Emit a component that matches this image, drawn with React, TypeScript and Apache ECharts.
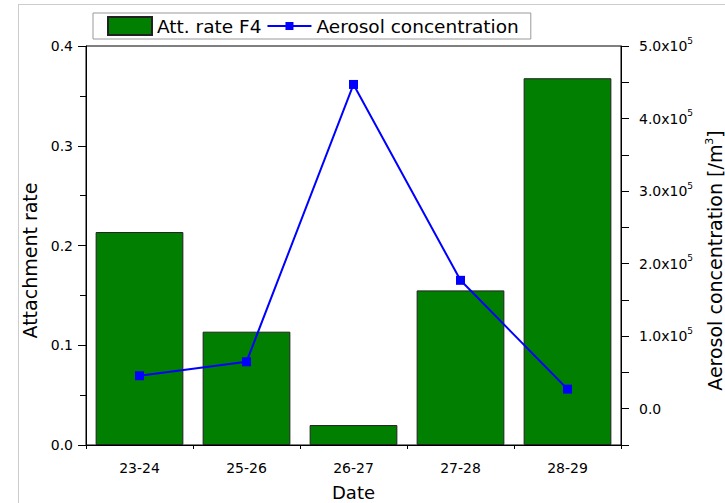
import React, { useEffect, useRef } from "react";
import * as echarts from "echarts";

const categories = ["23-24", "25-26", "26-27", "27-28", "28-29"];
const attRate = [0.2135, 0.1136, 0.02, 0.155, 0.3677];
const aerosol = [45500, 64700, 447000, 177000, 27000];

const FONT = "'DejaVu Sans', sans-serif";

export default function App() {
  const ref = useRef<HTMLDivElement>(null);
  useEffect(() => {
    document.body.style.margin = "0";
    const chart = echarts.init(ref.current!, null, { renderer: "svg" });
    chart.setOption({
      animation: false,
      textStyle: { fontFamily: FONT, color: "#000" },
      graphic: [
        { type: "line", shape: { x1: 18, y1: 4.5, x2: 725, y2: 4.5 }, style: { stroke: "#cccccc", lineWidth: 1 } },
        { type: "line", shape: { x1: 18.5, y1: 4, x2: 18.5, y2: 503 }, style: { stroke: "#cccccc", lineWidth: 1 } },
      ],
      legend: {
        left: 93,
        top: 13,
        padding: [3, 12, 3, 14],
        itemWidth: 44,
        itemHeight: 18,
        itemGap: 6,
        borderColor: "#999",
        borderWidth: 1,
        textStyle: { fontFamily: FONT, fontSize: 18.5, color: "#000" },
        data: [
          { name: "Att. rate F4", icon: "rect" },
          {
            name: "Aerosol concentration",
            icon: "path://M0,0M44,18M0,8L18,8L18,5L26,5L26,8L44,8L44,10L26,10L26,13L18,13L18,10L0,10Z",
          },
        ],
      },
      grid: {
        left: 86,
        right: 104,
        top: 46,
        bottom: 58,
        show: true,
        borderColor: "#000",
        borderWidth: 1,
        containLabel: false,
        outerBoundsMode: "none",
      },
      xAxis: [
        {
          type: "category",
          data: categories,
          name: "Date",
          nameLocation: "middle",
          nameGap: 38,
          nameTextStyle: { fontFamily: FONT, fontSize: 18, color: "#000" },
          axisLine: { onZero: false, lineStyle: { color: "#000", width: 1 } },
          axisTick: { alignWithLabel: true, length: 7, lineStyle: { color: "#000" } },
          axisLabel: { fontFamily: FONT, fontSize: 14, color: "#000", margin: 16 },
          splitLine: { show: false },
        },
        {
          type: "value",
          position: "bottom",
          min: 0,
          max: 5,
          interval: 1,
          axisLine: { show: false, onZero: false },
          axisTick: { show: true, length: 4, lineStyle: { color: "#000" } },
          axisLabel: { show: false },
          splitLine: { show: false },
        },
      ],
      yAxis: [
        {
          type: "value",
          min: 0,
          max: 0.4,
          interval: 0.1,
          name: "Attachment rate",
          nameLocation: "middle",
          nameGap: 41,
          nameRotate: 90,
          nameTextStyle: { fontFamily: FONT, fontSize: 19, color: "#000", padding: [0, 30, 0, 0] },
          axisLine: { show: true, onZero: false, lineStyle: { color: "#000", width: 1 } },
          axisTick: { show: true, length: 8, lineStyle: { color: "#000" } },
          minorTick: { show: true, splitNumber: 2, length: 6, lineStyle: { color: "#000" } },
          axisLabel: {
            fontFamily: FONT,
            fontSize: 14,
            color: "#000",
            margin: 13,
            formatter: (v: number) => v.toFixed(1),
          },
          splitLine: { show: false },
        },
        {
          type: "value",
          position: "right",
          min: -50000,
          max: 500000,
          interval: 50000,
          name: "Aerosol concentration [/m{sup|3}]",
          nameLocation: "middle",
          nameGap: 80,
          nameRotate: 90,
          nameTextStyle: {
            fontFamily: FONT,
            fontSize: 19,
            lineHeight: 22,
            color: "#000",
            padding: [0, 30, 0, 0],
            rich: {
              sup: { fontFamily: FONT, fontSize: 11, verticalAlign: "top", lineHeight: 22, color: "#000" },
            },
          },
          axisLine: { show: true, onZero: false, lineStyle: { color: "#000", width: 1 } },
          axisTick: { show: true, length: 8, lineStyle: { color: "#000" } },
          axisLabel: {
            fontFamily: FONT,
            color: "#000",
            margin: 18,
            formatter: (v: number) => {
              if (Math.abs(v % 100000) > 1) return "";
              if (v === 0) return "{a|0.0}";
              return "{a|" + (v / 100000).toFixed(1) + "x10}{sup|5}";
            },
            rich: {
              a: { fontFamily: FONT, fontSize: 14, color: "#000", lineHeight: 20 },
              sup: { fontFamily: FONT, fontSize: 9, color: "#000", verticalAlign: "top", lineHeight: 20 },
            },
          },
          splitLine: { show: false },
        },
      ],
      series: [
        {
          name: "Att. rate F4",
          type: "bar",
          xAxisIndex: 0,
          yAxisIndex: 0,
          data: attRate,
          barCategoryGap: "18%",
          itemStyle: { color: "#007f00", borderColor: "#222", borderWidth: 1 },
        },
        {
          name: "Aerosol concentration",
          type: "line",
          xAxisIndex: 0,
          yAxisIndex: 1,
          data: aerosol,
          symbol: "rect",
          symbolSize: 9,
          lineStyle: { color: "#0000ff", width: 2 },
          itemStyle: { color: "#0000ff" },
        },
      ],
    });
    return () => chart.dispose();
  }, []);
  return <div ref={ref} style={{ position: "absolute", left: 0, top: 0, width: 725, height: 503 }} />;
}
